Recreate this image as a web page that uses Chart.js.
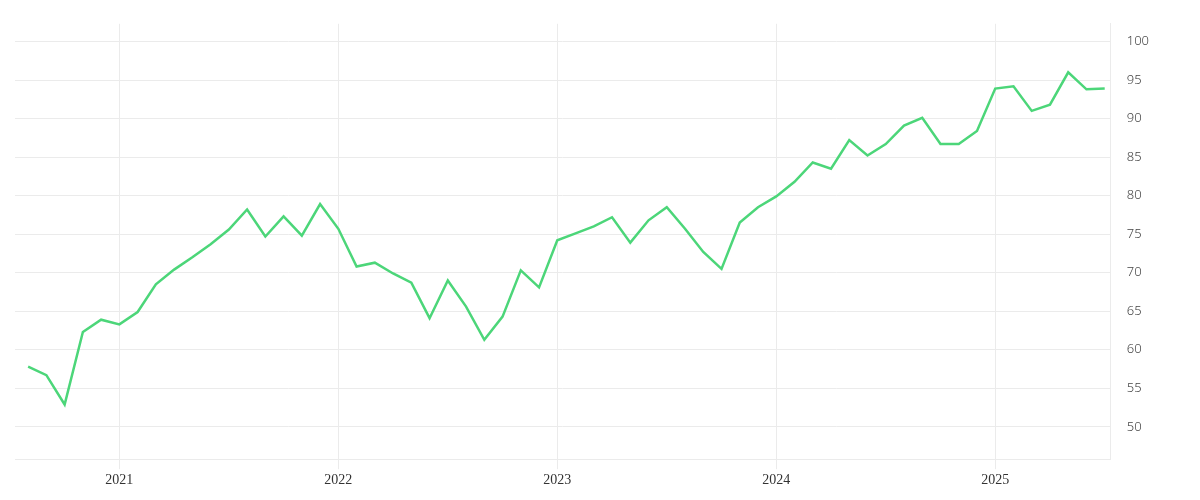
<!DOCTYPE html>
<html><head><meta charset="utf-8">
<script src="https://cdn.jsdelivr.net/npm/chart.js@4"></script>
<style>html,body{margin:0;background:#fff}#w{width:1200px;height:500px}</style>
</head><body><div id="w"><canvas id="c"></canvas></div>
<script>
const startLabel = "2020-08";
const values = [57.8,56.7,52.9,62.3,63.9,63.3,64.9,68.5,70.4,72.0,73.7,75.6,78.2,74.7,77.3,74.8,78.9,75.7,70.8,71.3,69.9,68.7,64.1,69.0,65.6,61.3,64.3,70.3,68.1,74.2,75.1,76.0,77.2,73.9,76.8,78.5,75.7,72.7,70.5,76.5,78.5,79.9,81.8,84.3,83.5,87.2,85.2,86.7,89.1,90.1,86.7,86.7,88.4,93.9,94.2,91.0,91.8,96.0,93.8,93.9];
const yearTicks = [5,17,29,41,53];
const yearLabels = ["2021","2022","2023","2024","2025"];
const yTicks = [50,55,60,65,70,75,80,85,90,95,100];
const pts = values.map((v,i)=>({x:i,y:v}));
new Chart(document.getElementById('c'),{
 type:'line',
 data:{datasets:[{data:pts,borderColor:'#4cd679',borderWidth:2.5,pointRadius:0,tension:0,fill:false}]},
 options:{responsive:true,maintainAspectRatio:false,animation:false,
  layout:{padding:{left:15,top:0,right:35,bottom:8}},
  plugins:{legend:{display:false},tooltip:{enabled:false}},
  scales:{
   x:{type:'linear',min:-0.72,max:59.33,
    afterBuildTicks:a=>{a.ticks=yearTicks.map(v=>({value:v}));},
    ticks:{callback:(v)=>yearLabels[yearTicks.indexOf(v)],color:'#333',font:{family:'Liberation Serif',size:14},maxRotation:0,autoSkip:false},
    grid:{color:'#ebebeb',tickLength:10},border:{display:true,color:'#ebebeb'}},
   y:{position:'right',min:45.8,max:102.3,
    afterBuildTicks:a=>{a.ticks=yTicks.map(v=>({value:v}));},
    ticks:{color:'#444',font:{family:'Noto Sans',size:13,weight:300},padding:16},
    grid:{color:'#ebebeb',drawTicks:false},border:{display:true,color:'#ebebeb'}}
  }}
});
</script></body></html>
